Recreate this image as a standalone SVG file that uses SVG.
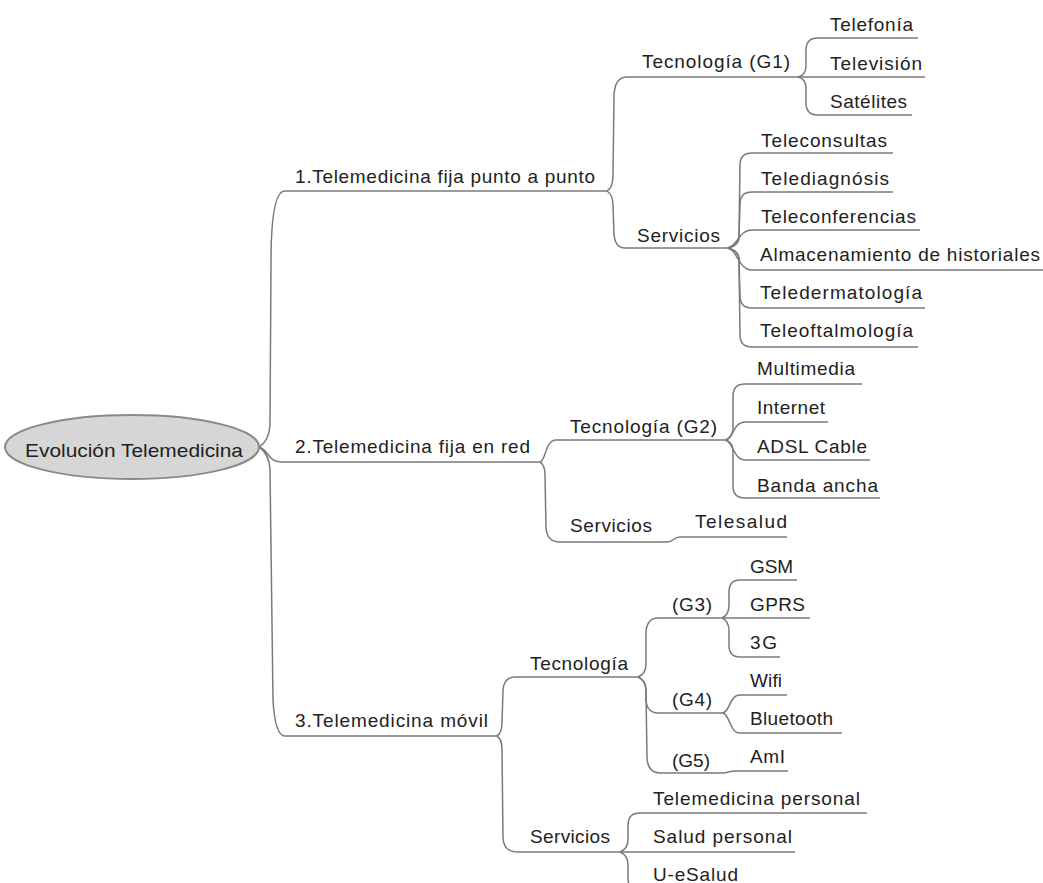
<svg xmlns="http://www.w3.org/2000/svg" width="1043" height="883" viewBox="0 0 1043 883">
  <style>
    .t { font-family: "Liberation Sans", Arial, sans-serif; font-size: 19px; fill: #222; }
    .ul { stroke: #7a7a7a; stroke-width: 1.5; fill: none; }
    .c { stroke: #7a7a7a; stroke-width: 1.5; fill: none; }
  </style>
  <rect x="0" y="0" width="1043" height="883" fill="#ffffff"/>

  <!-- connectors -->
  <g id="connectors" class="c">
    <!-- root to main branches -->
    <path d="M 259,447 Q 269,441 270,425 L 271,262 Q 271,191 285,191"/>
    <path d="M 259,447 C 268,449 268,462 281,462"/>
    <path d="M 259,447 Q 269,453 270,470 L 273,700 Q 275,736 285,736"/>
    <!-- branch 1 -->
    <path d="M 607,191 Q 613,188 613,175 L 614,95 Q 615,77 627,77"/>
    <path d="M 607,191 Q 613,195 613,205 L 614,234 Q 615,248 625,248"/>
    <path d="M 798,77 Q 806,75 806,66 L 806,50 Q 806,38 818,38"/>
    <path d="M 798,77 L 806,77"/>
    <path d="M 798,77 Q 806,79 806,88 L 806,103 Q 806,115 818,115"/>
    <path d="M 727,248 Q 739,246 739,236 L 740,165 Q 740,153 752,153"/>
    <path d="M 727,248 Q 739,246 739,236 L 740,204 Q 740,192 752,192"/>
    <path d="M 727,248 C 737,248 738,230 752,230"/>
    <path d="M 727,248 C 737,248 738,270 752,270"/>
    <path d="M 727,248 Q 739,250 739,260 L 740,296 Q 740,308 752,308"/>
    <path d="M 727,248 Q 739,250 739,260 L 740,335 Q 740,347 752,347"/>
    <!-- branch 2 -->
    <path d="M 540,462 C 546,461 545,440 556,440"/>
    <path d="M 540,462 Q 545,465 545,475 L 546,528 Q 547,542 560,542"/>
    <path d="M 667,542 C 674,542 673,537 680,537"/>
    <path d="M 725,440 Q 733,438 733,428 L 733,396 Q 733,384 745,384"/>
    <path d="M 725,440 C 733,440 733,422 745,422"/>
    <path d="M 725,440 C 733,440 733,460 745,460"/>
    <path d="M 725,440 Q 733,442 733,452 L 733,486 Q 733,498 745,498"/>
    <!-- branch 3 -->
    <path d="M 497,736 Q 502,733 502,722 L 503,690 Q 504,677 515,677"/>
    <path d="M 497,736 Q 502,739 502,750 L 503,838 Q 504,852 517,852"/>
    <path d="M 638,677 Q 646,674 646,664 L 646,632 Q 647,618 658,618"/>
    <path d="M 638,677 Q 646,680 646,690 L 646,700 Q 647,713 658,713"/>
    <path d="M 638,677 Q 646,680 646,692 L 647,758 Q 648,773 660,773"/>
    <path d="M 722,618 Q 729,615 729,605 L 729,592 Q 729,580 740,580"/>
    <path d="M 722,618 Q 729,621 729,631 L 729,645 Q 729,657 740,657"/>
    <path d="M 722,713 C 730,713 729,695 740,695"/>
    <path d="M 722,713 C 730,713 729,733 740,733"/>
    <path d="M 722,773 C 729,773 728,771 736,771"/>
    <path d="M 620,852 Q 628,849 628,839 L 628,825 Q 628,813 640,813"/>
    <path d="M 620,852 Q 628,855 628,865 L 628,878 Q 628,890 640,890"/>
  </g>

  <!-- root -->
  <g id="root">
    <ellipse cx="132" cy="447" rx="127" ry="32" fill="#d6d6d6" stroke="#8a8a8a" stroke-width="2"/>
    <text class="t" x="25" y="457" font-size="20.5" textLength="218" lengthAdjust="spacingAndGlyphs">Evolución Telemedicina</text>
  </g>

  <!-- branch 1 -->
  <g id="n-b1">
    <text class="t" x="295" y="183" textLength="300" lengthAdjust="spacing">1.Telemedicina fija punto a punto</text>
    <line class="ul" x1="285" y1="191" x2="607" y2="191"/>
  </g>
  <g id="n-b1-tec">
    <text class="t" x="642" y="68" textLength="148" lengthAdjust="spacing">Tecnología (G1)</text>
    <line class="ul" x1="627" y1="77" x2="798" y2="77"/>
  </g>
  <g id="n-telefonia">
    <text class="t" x="830" y="31" textLength="83" lengthAdjust="spacing">Telefonía</text>
    <line class="ul" x1="818" y1="38" x2="918" y2="38"/>
  </g>
  <g id="n-television">
    <text class="t" x="830" y="70" textLength="92" lengthAdjust="spacing">Televisión</text>
    <line class="ul" x1="806" y1="77" x2="925" y2="77"/>
  </g>
  <g id="n-satelites">
    <text class="t" x="830" y="108" textLength="77" lengthAdjust="spacing">Satélites</text>
    <line class="ul" x1="818" y1="115" x2="912" y2="115"/>
  </g>
  <g id="n-b1-serv">
    <text class="t" x="637" y="242" textLength="83" lengthAdjust="spacing">Servicios</text>
    <line class="ul" x1="625" y1="248" x2="727" y2="248"/>
  </g>
  <g id="n-teleconsultas">
    <text class="t" x="761" y="147" textLength="126" lengthAdjust="spacing">Teleconsultas</text>
    <line class="ul" x1="752" y1="153" x2="893" y2="153"/>
  </g>
  <g id="n-telediagnosis">
    <text class="t" x="761" y="185" textLength="128" lengthAdjust="spacing">Telediagnósis</text>
    <line class="ul" x1="752" y1="192" x2="893" y2="192"/>
  </g>
  <g id="n-teleconferencias">
    <text class="t" x="761" y="223" textLength="155" lengthAdjust="spacing">Teleconferencias</text>
    <line class="ul" x1="752" y1="230" x2="920" y2="230"/>
  </g>
  <g id="n-almacenamiento">
    <text class="t" x="760" y="261" textLength="280" lengthAdjust="spacing">Almacenamiento de historiales</text>
    <line class="ul" x1="752" y1="270" x2="1043" y2="270"/>
  </g>
  <g id="n-teledermatologia">
    <text class="t" x="760" y="299" textLength="162" lengthAdjust="spacing">Teledermatología</text>
    <line class="ul" x1="752" y1="308" x2="925" y2="308"/>
  </g>
  <g id="n-teleoftalmologia">
    <text class="t" x="760" y="337" textLength="153" lengthAdjust="spacing">Teleoftalmología</text>
    <line class="ul" x1="752" y1="347" x2="918" y2="347"/>
  </g>

  <!-- branch 2 -->
  <g id="n-b2">
    <text class="t" x="295" y="453" textLength="235" lengthAdjust="spacing">2.Telemedicina fija en red</text>
    <line class="ul" x1="281" y1="462" x2="540" y2="462"/>
  </g>
  <g id="n-b2-tec">
    <text class="t" x="570" y="433" textLength="147" lengthAdjust="spacing">Tecnología (G2)</text>
    <line class="ul" x1="556" y1="440" x2="725" y2="440"/>
  </g>
  <g id="n-multimedia">
    <text class="t" x="757" y="375" textLength="98" lengthAdjust="spacing">Multimedia</text>
    <line class="ul" x1="745" y1="384" x2="862" y2="384"/>
  </g>
  <g id="n-internet">
    <text class="t" x="757" y="414" textLength="68" lengthAdjust="spacing">Internet</text>
    <line class="ul" x1="745" y1="422" x2="828" y2="422"/>
  </g>
  <g id="n-adsl">
    <text class="t" x="757" y="453" textLength="110" lengthAdjust="spacing">ADSL Cable</text>
    <line class="ul" x1="745" y1="460" x2="870" y2="460"/>
  </g>
  <g id="n-banda">
    <text class="t" x="757" y="492" textLength="121" lengthAdjust="spacing">Banda ancha</text>
    <line class="ul" x1="745" y1="498" x2="880" y2="498"/>
  </g>
  <g id="n-b2-serv">
    <text class="t" x="570" y="532" textLength="82" lengthAdjust="spacing">Servicios</text>
    <line class="ul" x1="560" y1="542" x2="667" y2="542"/>
  </g>
  <g id="n-telesalud">
    <text class="t" x="695" y="528" textLength="92" lengthAdjust="spacing">Telesalud</text>
    <line class="ul" x1="680" y1="537" x2="787" y2="537"/>
  </g>

  <!-- branch 3 -->
  <g id="n-b3">
    <text class="t" x="295" y="727" textLength="193" lengthAdjust="spacing">3.Telemedicina móvil</text>
    <line class="ul" x1="285" y1="736" x2="497" y2="736"/>
  </g>
  <g id="n-b3-tec">
    <text class="t" x="530" y="670" textLength="98" lengthAdjust="spacing">Tecnología</text>
    <line class="ul" x1="515" y1="677" x2="638" y2="677"/>
  </g>
  <g id="n-g3">
    <text class="t" x="672" y="611" textLength="40" lengthAdjust="spacing">(G3)</text>
    <line class="ul" x1="658" y1="618" x2="722" y2="618"/>
  </g>
  <g id="n-gsm">
    <text class="t" x="750" y="573" textLength="43" lengthAdjust="spacing">GSM</text>
    <line class="ul" x1="740" y1="580" x2="797" y2="580"/>
  </g>
  <g id="n-gprs">
    <text class="t" x="750" y="611" textLength="55" lengthAdjust="spacing">GPRS</text>
    <line class="ul" x1="722" y1="618" x2="810" y2="618"/>
  </g>
  <g id="n-3g">
    <text class="t" x="750" y="649" textLength="27" lengthAdjust="spacing">3G</text>
    <line class="ul" x1="740" y1="657" x2="780" y2="657"/>
  </g>
  <g id="n-g4">
    <text class="t" x="672" y="706" textLength="40" lengthAdjust="spacing">(G4)</text>
    <line class="ul" x1="658" y1="713" x2="722" y2="713"/>
  </g>
  <g id="n-wifi">
    <text class="t" x="750" y="687" textLength="32" lengthAdjust="spacing">Wifi</text>
    <line class="ul" x1="740" y1="695" x2="787" y2="695"/>
  </g>
  <g id="n-bluetooth">
    <text class="t" x="750" y="725" textLength="83" lengthAdjust="spacing">Bluetooth</text>
    <line class="ul" x1="740" y1="733" x2="842" y2="733"/>
  </g>
  <g id="n-g5">
    <text class="t" x="672" y="767" textLength="38" lengthAdjust="spacing">(G5)</text>
    <line class="ul" x1="660" y1="773" x2="722" y2="773"/>
  </g>
  <g id="n-ami">
    <text class="t" x="750" y="763" textLength="35" lengthAdjust="spacing">AmI</text>
    <line class="ul" x1="736" y1="771" x2="788" y2="771"/>
  </g>
  <g id="n-b3-serv">
    <text class="t" x="530" y="843" textLength="80" lengthAdjust="spacing">Servicios</text>
    <line class="ul" x1="517" y1="852" x2="620" y2="852"/>
  </g>
  <g id="n-telemed-personal">
    <text class="t" x="653" y="805" textLength="207" lengthAdjust="spacing">Telemedicina personal</text>
    <line class="ul" x1="640" y1="813" x2="867" y2="813"/>
  </g>
  <g id="n-salud-personal">
    <text class="t" x="653" y="843" textLength="139" lengthAdjust="spacing">Salud personal</text>
    <line class="ul" x1="620" y1="852" x2="795" y2="852"/>
  </g>
  <g id="n-uesalud">
    <text class="t" x="653" y="881" textLength="85" lengthAdjust="spacing">U-eSalud</text>
    <line class="ul" x1="640" y1="890" x2="745" y2="890"/>
  </g>
</svg>
